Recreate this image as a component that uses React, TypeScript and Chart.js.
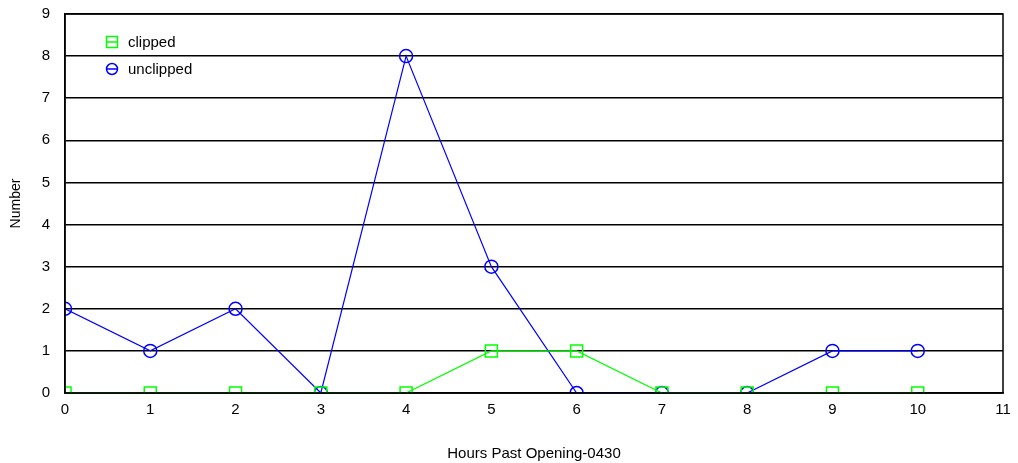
import React, { useEffect, useRef } from "react";
import { Chart, registerables } from "chart.js";

Chart.register(...registerables);

const hours = [0, 1, 2, 3, 4, 5, 6, 7, 8, 9, 10];
const clipped = [0, 0, 0, 0, 0, 1, 1, 0, 0, 0, 0];
const unclipped = [2, 1, 2, 0, 8, 3, 0, 0, 0, 1, 1];
const seriesNames = ["clipped", "unclipped"];
const seriesColors = ["#00ff00", "#0000ff"];
const seriesMarkers = ["rect", "circle"];
const markerRadius = [8.5, 6.5];
const xTitle = "Hours Past Opening-0430";
const yTitle = "Number";

const FONT = "'Liberation Sans', Arial, sans-serif";

const framePlugin = {
  id: "frame",
  afterDraw(chart: any) {
    const { ctx, chartArea } = chart;
    ctx.save();
    ctx.strokeStyle = "#000";
    ctx.lineWidth = 1.5;
    ctx.strokeRect(chartArea.left, chartArea.top, chartArea.right - chartArea.left, chartArea.bottom - chartArea.top);
    // legend
    const x0 = chartArea.left + 47;
    const ys = [chartArea.top + 28, chartArea.top + 55];
    ctx.font = "15px " + FONT;
    ctx.textBaseline = "middle";
    ctx.textAlign = "left";
    seriesNames.forEach((name, i) => {
      const y = ys[i];
      ctx.strokeStyle = seriesColors[i];
      ctx.lineWidth = 1.5;
      ctx.beginPath();
      if (seriesMarkers[i] === "rect") {
        ctx.rect(x0 - 5.5, y - 5.5, 11, 11);
      } else {
        ctx.arc(x0, y, 5.5, 0, Math.PI * 2);
      }
      ctx.moveTo(x0 - 5.5, y);
      ctx.lineTo(x0 + 5.5, y);
      ctx.stroke();
      ctx.fillStyle = "#000";
      ctx.fillText(name, x0 + 16, y + 1);
    });
    ctx.restore();
  },
};

export default function App() {
  const ref = useRef<HTMLCanvasElement>(null);
  useEffect(() => {
    document.body.style.margin = "0";
    const series = [clipped, unclipped];
    const chart = new Chart(ref.current!, {
      type: "scatter",
      data: {
        datasets: series.map((vals, i) => ({
          label: seriesNames[i],
          data: hours.map((h, j) => ({ x: h, y: vals[j] })),
          showLine: true,
          clip: 0,
          borderColor: seriesColors[i],
          backgroundColor: "rgba(0,0,0,0)",
          borderWidth: 1.2,
          pointStyle: seriesMarkers[i] as any,
          pointRadius: markerRadius[i],
          pointBorderWidth: 1.5,
          pointBorderColor: seriesColors[i],
          pointBackgroundColor: "rgba(0,0,0,0)",
        })),
      },
      options: {
        animation: false,
        responsive: false,
        layout: { padding: { top: 14, right: 15, left: 0, bottom: 0 } },
        plugins: { legend: { display: false }, tooltip: { enabled: false } },
        scales: {
          x: {
            type: "linear",
            min: 0,
            max: 11,
            ticks: { stepSize: 1, color: "#000", font: { family: FONT, size: 15 }, padding: 8, maxRotation: 0 },
            grid: { display: false, drawTicks: false },
            border: { display: true, color: "#000", width: 1.5 },
            title: { display: true, text: xTitle, color: "#000", font: { family: FONT, size: 15 }, padding: { top: 4, bottom: 0 } },
            afterFit: (s: any) => { s.height = 70; s.paddingLeft = 0; s.paddingRight = 0; },
          },
          y: {
            min: 0,
            max: 9,
            ticks: { stepSize: 1, color: "#000", font: { family: FONT, size: 15 }, padding: 15 },
            grid: { display: true, color: "#000", lineWidth: 1.5, drawTicks: false },
            border: { display: true, color: "#000", width: 1.5 },
            title: { display: true, text: yTitle, color: "#000", font: { family: FONT, size: 14 }, padding: { top: 8, bottom: 0 } },
            afterFit: (s: any) => { s.width = 65; s.paddingTop = 0; s.paddingBottom = 0; },
          },
        },
      },
      plugins: [framePlugin],
    });
    return () => chart.destroy();
  }, []);
  return (
    <div style={{ position: "absolute", left: 0, top: 0, width: 1018, height: 463 }}>
      <canvas ref={ref} width={1018} height={463} style={{ width: 1018, height: 463 }} />
    </div>
  );
}
